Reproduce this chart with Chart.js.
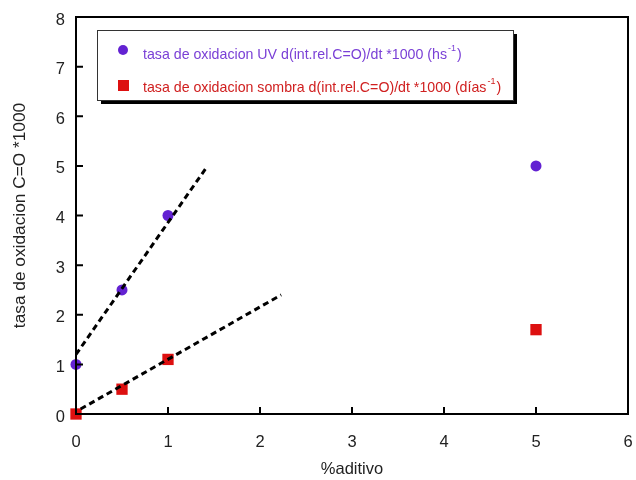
<!DOCTYPE html>
<html>
<head>
<meta charset="utf-8">
<script src="https://cdn.jsdelivr.net/npm/chart.js@4.4.1/dist/chart.umd.min.js"></script>
<style>
  html, body { margin: 0; padding: 0; background: #fff; }
  #wrap { width: 636px; height: 480px; }
</style>
</head>
<body>
<div id="wrap"><canvas id="chartOx" width="636" height="480"></canvas></div>
<script>
// data
var aditivo = [0, 0.5, 1, 5];
var tasaUV = [1, 2.5, 4, 5];
var tasaSombra = [0, 0.5, 1.1, 1.7];

// dashed trend lines (end points)
var trendUVx = [0, 1.43];
var trendUVy = [1.2, 5.0];
var trendSombraX = [0.05, 2.23];
var trendSombraY = [0.1, 2.4];

var xTicks = [0, 1, 2, 3, 4, 5, 6];
var yTicks = [0, 1, 2, 3, 4, 5, 6, 7, 8];

var purple = '#6322d2';
var red = '#dd1010';
var fontFam = '"Liberation Sans", Arial, sans-serif';

function pts(xs, ys) {
  return xs.map(function (x, i) { return { x: x, y: ys[i] }; });
}

// box, inward ticks and the legend box with shadow
var frame = {
  id: 'frame',
  afterDraw: function (chart) {
    var ctx = chart.ctx;
    var a = chart.chartArea;
    var xs = chart.scales.x, ys = chart.scales.y;
    ctx.save();
    ctx.strokeStyle = '#000';
    ctx.lineWidth = 2;
    ctx.strokeRect(a.left, a.top, a.right - a.left, a.bottom - a.top);
    ctx.beginPath();
    xTicks.forEach(function (v) {
      var px = xs.getPixelForValue(v);
      ctx.moveTo(px, a.bottom);
      ctx.lineTo(px, a.bottom - 7);
    });
    yTicks.forEach(function (v) {
      var py = ys.getPixelForValue(v);
      ctx.moveTo(a.left, py);
      ctx.lineTo(a.left + 7, py);
    });
    ctx.stroke();

    // legend
    var bx = 97, by = 30, bw = 416, bh = 70;
    ctx.fillStyle = '#000';
    ctx.fillRect(bx + 4, by + 4, bw, bh);
    ctx.fillStyle = '#fff';
    ctx.fillRect(bx, by, bw, bh);
    ctx.lineWidth = 1;
    ctx.strokeStyle = '#333';
    ctx.strokeRect(bx + 0.5, by + 0.5, bw, bh);

    ctx.fillStyle = purple;
    ctx.beginPath();
    ctx.arc(123, 50, 5, 0, Math.PI * 2);
    ctx.fill();
    ctx.fillStyle = red;
    ctx.fillRect(118, 80, 11, 11);

    function entry(y, main, tail, color) {
      ctx.fillStyle = color;
      ctx.textBaseline = 'middle';
      ctx.font = '14.2px ' + fontFam;
      var x = 143;
      ctx.fillText(main, x, y);
      x += ctx.measureText(main).width + 1;
      ctx.font = '9px ' + fontFam;
      ctx.fillText('-1', x, y - 6);
      x += ctx.measureText('-1').width + 1;
      ctx.font = '14.2px ' + fontFam;
      ctx.fillText(tail, x, y);
    }
    entry(55, 'tasa de oxidacion UV d(int.rel.C=O)/dt *1000 (hs', ')', '#7a40d6');
    entry(88, 'tasa de oxidacion sombra d(int.rel.C=O)/dt *1000 (días', ')', '#d02020');
    ctx.restore();
  }
};

var ctxOx = document.getElementById('chartOx');

var oxChart = new Chart(ctxOx, {
  type: 'scatter',
  data: {
    datasets: [
      {
        label: 'tendencia UV',
        data: pts(trendUVx, trendUVy),
        showLine: true,
        borderColor: '#000',
        borderWidth: 3,
        borderDash: [6, 4],
        pointRadius: 0
      },
      {
        label: 'tendencia sombra',
        data: pts(trendSombraX, trendSombraY),
        showLine: true,
        borderColor: '#000',
        borderWidth: 3,
        borderDash: [6, 4],
        pointRadius: 0
      },
      {
        label: 'tasa de oxidacion UV d(int.rel.C=O)/dt *1000 (hs-1)',
        data: pts(aditivo, tasaUV),
        pointStyle: 'circle',
        pointRadius: 5.5,
        backgroundColor: purple,
        borderColor: purple,
        borderWidth: 0,
        clip: false
      },
      {
        label: 'tasa de oxidacion sombra d(int.rel.C=O)/dt *1000 (días-1)',
        data: pts(aditivo, tasaSombra),
        pointStyle: 'rect',
        pointRadius: 8,
        backgroundColor: red,
        borderColor: red,
        borderWidth: 0,
        clip: false
      }
    ]
  },
  options: {
    responsive: false,
    animation: false,
    layout: { padding: { top: 17, right: 6, left: 0, bottom: 0 } },
    plugins: {
      legend: { display: false },
      tooltip: { enabled: false }
    },
    scales: {
      x: {
        type: 'linear',
        min: 0,
        max: 6,
        afterBuildTicks: function (s) { s.ticks = xTicks.map(function (v) { return { value: v }; }); },
        afterFit: function (s) { s.height = 66; s.paddingLeft = 0; s.paddingRight = 0; },
        grid: { display: false, drawTicks: false },
        border: { display: false },
        ticks: {
          padding: 19,
          color: '#222',
          font: { family: fontFam, size: 16.5 }
        },
        title: {
          display: true,
          text: '%aditivo',
          color: '#222',
          padding: { top: 4, bottom: 1 },
          font: { family: fontFam, size: 16.5 }
        }
      },
      y: {
        type: 'linear',
        min: 0,
        max: 8,
        afterBuildTicks: function (s) { s.ticks = yTicks.map(function (v) { return { value: v }; }); },
        afterFit: function (s) { s.width = 76; s.paddingTop = 0; s.paddingBottom = 0; },
        grid: { display: false, drawTicks: false },
        border: { display: false },
        ticks: {
          padding: 11,
          labelOffset: 3,
          color: '#222',
          font: { family: fontFam, size: 16.5 }
        },
        title: {
          display: true,
          text: 'tasa de oxidacion C=O *1000',
          color: '#222',
          padding: { top: 10, bottom: 0 },
          font: { family: fontFam, size: 17.3 }
        }
      }
    }
  },
  plugins: [frame]
});
</script>
</body>
</html>
